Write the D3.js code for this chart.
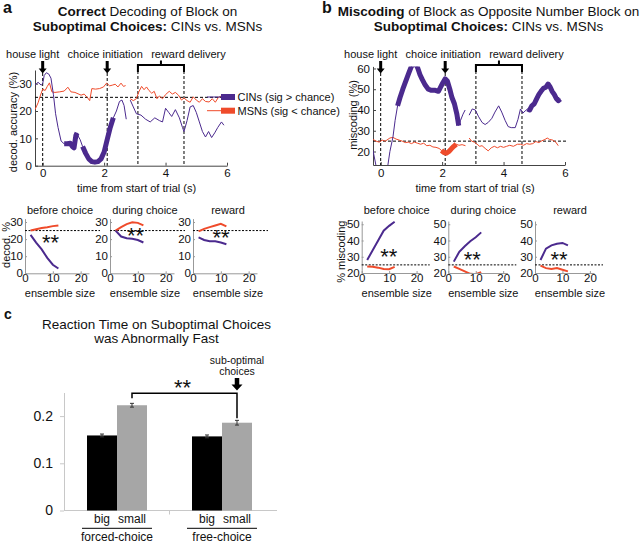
<!DOCTYPE html>
<html>
<head>
<meta charset="utf-8">
<script src="https://cdn.jsdelivr.net/npm/d3@7"></script>
<style>
  body { margin: 0; background: #fff; }
  svg { display: block; font-family: "Liberation Sans", Arial, sans-serif; }
</style>
</head>
<body>
<svg id="fig" width="640" height="542"></svg>
<script>
// ---- data: [time (s), value %] pairs, null = gap ----
const timeTicks = [0, 2, 4, 6];
const aYTicks = [0, 10, 20, 30];
const bYTicks = [20, 30, 40, 50, 60];

const aCins = [[-0.25,29.5],[-0.15,30.5],[-0.05,29.5],[0,30],[0.05,33],[0.12,34],[0.2,33.5],[0.27,32],[0.35,26],[0.42,19],[0.5,14],[0.6,9],[0.7,8],[0.8,8],[0.9,8.2],[0.97,7],[1.02,6.5],[1.08,11],[1.12,12],[1.17,10.5],[1.22,9.5],[1.3,7],[1.4,4.5],[1.5,2.5],[1.6,1.5],[1.7,1.3],[1.8,1.5],[1.9,2.5],[2,5],[2.1,9.5],[2.2,14],[2.3,17.5],[2.4,20],[2.5,23.5],[2.58,24],[2.65,22],[2.72,17],[2.8,null],[2.85,24],[2.95,21.5],[3.05,19],[3.2,18.5],[3.35,17],[3.5,16],[3.65,17.5],[3.8,16.5],[3.9,16],[4,21],[4.1,19.5],[4.2,18],[4.32,20.5],[4.45,17.5],[4.55,14],[4.6,12.5],[4.7,16.5],[4.8,21.5],[4.9,22],[5,19.5],[5.1,16],[5.2,12.5],[5.3,10.5],[5.4,12.5],[5.5,10.3],[5.6,12],[5.7,14],[5.82,16],[5.9,14.8]];
const aMsns = [[-0.25,20.5],[-0.15,23],[-0.08,25.5],[0,28],[0.08,27.5],[0.15,29],[0.22,30.3],[0.3,27],[0.4,26.8],[0.55,27],[0.7,27.3],[0.82,28.7],[0.92,27],[1.05,26.8],[1.15,26.3],[1.25,25.8],[1.35,26.2],[1.45,25],[1.53,23.8],[1.6,28.2],[1.72,28],[1.85,28.2],[1.98,28.8],[2.08,30.2],[2.18,29.2],[2.28,29.5],[2.36,29.8],[2.45,28.8],[2.55,30.2],[2.63,29],[2.7,29.3],[2.78,null],[2.85,24.5],[2.95,23.8],[3.05,24.5],[3.13,27],[3.22,29],[3.3,27.8],[3.38,28.8],[3.46,27.5],[3.55,26.5],[3.63,27.2],[3.72,24.5],[3.8,25.5],[3.9,24.5],[4,26],[4.12,27.2],[4.22,26.2],[4.32,26.8],[4.42,25.8],[4.52,24],[4.6,24.8],[4.7,23.8],[4.8,23.2],[4.9,25.2],[5,24],[5.1,23.2],[5.2,24.5],[5.3,23.5],[5.42,23.3],[5.52,24.5],[5.62,23.2],[5.72,25],[5.82,25.5]];
const aCinsSig = [[0.62, 1.12], [1.3, 2.32]];
const aMsnsSig = [];

const bCins = [[-0.25,20.5],[-0.15,13],[-0.05,5],[0.1,5],[0.22,12],[0.3,20],[0.4,27],[0.47,35],[0.55,42],[0.63,46],[0.72,50],[0.82,54],[0.92,58],[1,61],[1.1,63],[1.2,60.5],[1.28,57],[1.36,54.5],[1.45,52],[1.55,50],[1.65,49.5],[1.78,49.5],[1.88,49],[1.95,51],[2.02,53],[2.1,55],[2.17,54],[2.25,50],[2.32,46],[2.4,43],[2.48,38],[2.54,32.5],[2.6,35],[2.68,38],[2.75,40],[2.82,null],[2.88,37.5],[2.98,40.5],[3.08,40],[3.18,37],[3.3,34],[3.4,33],[3.5,34],[3.62,36],[3.72,39],[3.84,42],[3.94,39],[4.05,35],[4.15,32],[4.25,31.5],[4.38,31.5],[4.47,35.5],[4.55,40.5],[4.63,38.5],[4.7,39.5],[4.78,40.5],[4.85,40],[4.92,42],[5,43],[5.08,45.5],[5.15,47.5],[5.22,49],[5.3,50.5],[5.38,51],[5.45,52.5],[5.52,51],[5.58,49],[5.65,47.5],[5.72,45.5],[5.78,44.5],[5.85,45.3]];
const bMsns = [[-0.25,25.8],[-0.15,25],[-0.05,24.5],[0.05,25.5],[0.15,25],[0.3,26.5],[0.4,26.8],[0.5,26],[0.6,25.5],[0.7,25],[0.8,24.3],[0.9,24.5],[1,23.8],[1.1,24.5],[1.2,24],[1.3,23.5],[1.4,24],[1.5,22.8],[1.6,23],[1.7,22.2],[1.8,22],[1.9,21.5],[1.98,20.5],[2.06,19.5],[2.14,19.2],[2.22,20],[2.3,21.3],[2.38,22.5],[2.46,23.5],[2.55,23],[2.65,23.3],[2.76,22.8],[2.82,null],[2.88,26.5],[2.96,25],[3.05,24.5],[3.14,23.5],[3.22,22.5],[3.3,22.8],[3.4,21.5],[3.5,20.3],[3.6,21.8],[3.7,22.5],[3.8,21.8],[3.9,22.5],[4,22],[4.1,22.5],[4.2,23],[4.32,22.5],[4.45,23.5],[4.55,23.5],[4.65,23],[4.75,23.8],[4.85,23.5],[4.95,23.8],[5.05,24.8],[5.15,24.3],[5.25,25.2],[5.35,25.8],[5.42,26.5],[5.5,25.8],[5.6,25.5],[5.7,24.5],[5.78,22.8]];
const bCinsSig = [[0.52, 2.56], [4.72, 5.88]];
const bMsnsSig = [[1.95, 2.46]];

// ensemble-size panels
const ensSizes = [2, 4, 6, 8, 10, 12];
const smallTitles = ['before choice', 'during choice', 'reward'];
const aSmallCins = [[22.5,18,14,9,5,2.8],[25,21.5,20.5,20.2,19.5,18],[21,19.5,18.8,18.8,18,17]];
const aSmallMsns = [[25,25.8,26.5,27,27.6,28],[25,27,28.8,29.8,29.5,28],[24.5,26,27,28,29,27.5]];
const bSmallCins = [[28,34,40,46,49,51.5],[27,33,36.5,39.5,42,45],[28,35,37,38,38.5,37]];
const bSmallMsns = [[24,23.8,23.3,22.5,22.3,23.8],[24,22.5,21,19.5,19.3,20.5],[24.5,23,22.5,23,22,21]];

// reaction times
const cGroups = ['forced-choice', 'free-choice'];
const cConds = ['big', 'small'];
const cMeans = [[0.159, 0.223], [0.157, 0.186]];
const cErrs = [[0.003, 0.004], [0.003, 0.005]];
const cTicks = [0, 0.1, 0.2];

const PURPLE = '#4b2a8e';
const RED = '#ef4b2b';
const FONT = '"Liberation Sans", Arial, sans-serif';

const svg = d3.select('#fig');
const defs = svg.append('defs');

function label(g, x, y, s, size, anchor = 'middle', weight = 'normal') {
  return g.append('text').attr('x', x).attr('y', y).attr('text-anchor', anchor)
    .attr('font-size', size).attr('font-weight', weight).attr('fill', '#111').text(s);
}

function vLabel(g, x, y, s, size) {
  return g.append('text').attr('transform', `translate(${x},${y}) rotate(-90)`)
    .attr('text-anchor', 'middle').attr('font-size', size).attr('fill', '#111').text(s);
}

function styleAxis(sel, color, size) {
  sel.attr('font-family', FONT).attr('font-size', size);
  sel.selectAll('.domain, .tick line').attr('stroke', color);
  sel.selectAll('text').attr('fill', '#111');
}

function arrow(g, x, yTop, yTip, sw, hw, hh) {
  g.append('path')
    .attr('d', `M${x - sw / 2},${yTop}H${x + sw / 2}V${yTip - hh}H${x + hw / 2}L${x},${yTip}L${x - hw / 2},${yTip - hh}H${x - sw / 2}Z`)
    .attr('fill', '#000');
}

function title(g, cx, lines) {
  lines.forEach(([bold, rest], i) => {
    const t = g.append('text').attr('x', cx).attr('y', 16 + i * 14.5)
      .attr('text-anchor', 'middle').attr('font-size', 13.5).attr('fill', '#111');
    t.append('tspan').attr('font-weight', 'bold').text(bold);
    t.append('tspan').text(rest);
  });
}

// ---- time-course panel ----
function tracePanel(o) {
  const g = svg.append('g');
  const x = d3.scaleLinear([-0.25, 6], [o.left, o.left + 192]);
  const y = d3.scaleLinear(o.yDomain, o.yRange);
  const [yb, yt] = o.yRange;

  defs.append('clipPath').attr('id', o.id).append('rect')
    .attr('x', o.left).attr('y', yt).attr('width', 192).attr('height', yb - yt);

  const xa = g.append('g').attr('transform', `translate(0,${yb})`)
    .call(d3.axisBottom(x).tickValues(timeTicks).tickFormat(d3.format('d'))
      .tickSizeInner(-3).tickSizeOuter(0).tickPadding(3.5));
  const ya = g.append('g').attr('transform', `translate(${o.left},0)`)
    .call(d3.axisLeft(y).tickValues(o.yTicks).tickFormat(d3.format('d'))
      .tickSizeInner(-3).tickSizeOuter(0).tickPadding(3));
  styleAxis(xa, '#444', 11.5);
  styleAxis(ya, '#444', 11.5);

  // chance level
  g.append('line').attr('x1', o.left).attr('x2', x(6) + 2).attr('y1', y(25)).attr('y2', y(25))
    .attr('stroke', '#000').attr('stroke-dasharray', '3,2');

  // events
  [0, 2.1].forEach(t => {
    g.append('line').attr('x1', x(t)).attr('x2', x(t)).attr('y1', 73).attr('y2', yb)
      .attr('stroke', '#000').attr('stroke-dasharray', '3,2');
    arrow(g, x(t), 61, 73.5, 3, 8, 5);
  });
  [3.1, 4.6].forEach(t => {
    g.append('line').attr('x1', x(t)).attr('x2', x(t)).attr('y1', 66).attr('y2', yb)
      .attr('stroke', '#000').attr('stroke-dasharray', '3,2');
  });
  const mid = (x(3.1) + x(4.6)) / 2;
  g.append('path').attr('d', `M${x(3.1)},72V65H${x(4.6)}V72M${mid},65V60.5`)
    .attr('fill', 'none').attr('stroke', '#000').attr('stroke-width', 2);
  label(g, x(0) - 10, 57.5, 'house light', 11);
  label(g, x(2.1) - 2, 57.5, 'choice initiation', 11);
  label(g, mid + 27.5, 57.5, 'reward delivery', 11);

  // traces
  const line = d3.line().defined(d => d[1] != null).x(d => x(d[0])).y(d => y(d[1]));
  const plot = g.append('g').attr('clip-path', `url(#${o.id})`);
  [[o.msns, o.msnSig, RED], [o.cins, o.cinSig, PURPLE]].forEach(([series, sig, color]) => {
    plot.append('path').datum(series).attr('d', line)
      .attr('fill', 'none').attr('stroke', color).attr('stroke-width', 1);
    sig.forEach(([s, e]) => {
      plot.append('path').datum(series.filter(d => d[0] >= s && d[0] <= e)).attr('d', line)
        .attr('fill', 'none').attr('stroke', color).attr('stroke-width', 5)
        .attr('stroke-linejoin', 'round');
    });
  });

  label(g, o.xLabelX, 192, 'time from start of trial (s)', 11);
  vLabel(g, o.yLabelX, o.yLabelY, o.yLabel, 11);
}

// ---- ensemble-size panels ----
function smallPanels(o) {
  const g = svg.append('g');
  o.lefts.forEach((left, i) => {
    const x = d3.scaleLinear(o.xDomain, [left, left + o.width]);
    const y = d3.scaleLinear(o.yDomain, o.yRange);
    const [yb, yt] = o.yRange;
    defs.append('clipPath').attr('id', `${o.id}${i}`).append('rect')
      .attr('x', left).attr('y', yt - 4).attr('width', o.width).attr('height', yb - yt + 4);

    const xa = g.append('g').attr('transform', `translate(0,${yb})`)
      .call(d3.axisBottom(x).tickValues([0, 10, 20]).tickFormat(d3.format('d'))
        .tickSizeInner(-2).tickSizeOuter(0).tickPadding(1));
    const ya = g.append('g').attr('transform', `translate(${left},0)`)
      .call(d3.axisLeft(y).tickValues(o.yTicks).tickFormat(d3.format('d'))
        .tickSizeInner(-2).tickSizeOuter(0).tickPadding(2));
    styleAxis(xa, '#999', 11.5);
    styleAxis(ya, '#999', 11.5);

    g.append('line').attr('x1', left).attr('x2', left + o.chanceLen).attr('y1', y(25)).attr('y2', y(25))
      .attr('stroke', '#000').attr('stroke-dasharray', '2,1.5');

    const line = d3.line().x((d, j) => x(ensSizes[j])).y(d => y(d));
    const plot = g.append('g').attr('clip-path', `url(#${o.id}${i})`);
    plot.append('path').datum(o.msns[i]).attr('d', line)
      .attr('fill', 'none').attr('stroke', RED).attr('stroke-width', 2);
    plot.append('path').datum(o.cins[i]).attr('d', line)
      .attr('fill', 'none').attr('stroke', PURPLE).attr('stroke-width', 2);

    label(g, left + o.starDx[i], o.starY[i] + 12, '**', 22);
    label(g, left + o.titleDx, 214, smallTitles[i], 11);
    label(g, left + o.titleDx, 296.5, 'ensemble size', 11);
  });
  vLabel(g, o.yLabelX, o.yLabelY, o.yLabel, 11);
}

// panel letters & titles
label(svg, 3, 13, 'a', 16, 'start', 'bold');
label(svg, 322, 13, 'b', 16, 'start', 'bold');
label(svg, 4, 318.5, 'c', 14, 'start', 'bold');
title(svg, 147.5, [['Correct', ' Decoding of Block on'], ['Suboptimal Choices:', ' CINs vs. MSNs']]);
title(svg, 488.5, [['Miscoding', ' of Block as Opposite Number Block on'], ['Suboptimal Choices:', ' CINs vs. MSNs']]);

tracePanel({
  id: 'clipA', left: 35, yDomain: [0, 35], yRange: [165.7, 70], yTicks: aYTicks,
  cins: aCins, msns: aMsns, cinSig: aCinsSig, msnSig: aMsnsSig,
  yLabel: 'decod. accuracy (%)', yLabelX: 16.5, yLabelY: 122, xLabelX: 136.5
});
tracePanel({
  id: 'clipB', left: 373, yDomain: [13.5, 61], yRange: [165, 66.4], yTicks: bYTicks,
  cins: bCins, msns: bMsns, cinSig: bCinsSig, msnSig: bMsnsSig,
  yLabel: 'miscoding (%)', yLabelX: 356.5, yLabelY: 115, xLabelX: 475
});

// legend (panel a)
const leg = svg.append('g');
[[PURPLE, 97, 'CINs (sig > chance)'], [RED, 110.7, 'MSNs (sig < chance)']].forEach(([c, ly, s]) => {
  leg.append('line').attr('x1', 207).attr('x2', 235).attr('y1', ly).attr('y2', ly).attr('stroke', c).attr('stroke-width', 1);
  leg.append('line').attr('x1', 221).attr('x2', 235).attr('y1', ly).attr('y2', ly).attr('stroke', c).attr('stroke-width', 6);
  label(leg, 237.5, ly + 4, s, 11, 'start');
});

smallPanels({
  id: 'clipSA', lefts: [25, 110, 193], width: 64, xDomain: [0, 23],
  yDomain: [0, 32], yRange: [273.3, 218.6], yTicks: [0, 10, 20, 30],
  cins: aSmallCins, msns: aSmallMsns, chanceLen: 75, titleDx: 35,
  starDx: [25.5, 25.5, 28], starY: [238, 231, 233],
  yLabel: 'decod. %', yLabelX: 9.5, yLabelY: 245
});
smallPanels({
  id: 'clipSB', lefts: [361.7, 448.3, 535], width: 59, xDomain: [0, 21.5],
  yDomain: [20, 52], yRange: [273, 221], yTicks: [20, 30, 40, 50],
  cins: bSmallCins, msns: bSmallMsns, chanceLen: 68, titleDx: 35,
  starDx: [27, 24, 24], starY: [252, 255, 255],
  yLabel: '% miscoding', yLabelX: 344.5, yLabelY: 251.7
});

// ---- panel c: reaction times ----
const gc = svg.append('g');
label(gc, 156.5, 328.5, 'Reaction Time on Suboptimal Choices', 13.5);
label(gc, 156.5, 343, 'was Abnormally Fast', 13.5);

const xc = d3.scaleBand(cGroups, [64.5, 274.5]).paddingInner(0.4286).paddingOuter(0.2143);
const xs = d3.scaleBand(cConds, [0, xc.bandwidth()]);
const yc = d3.scaleLinear([0, 0.25], [510.5, 392.5]);

const yca = gc.append('g').attr('transform', 'translate(64,0)')
  .call(d3.axisLeft(yc).tickValues(cTicks).tickFormat(d => d === 0 ? '0' : d3.format('.1f')(d))
    .tickSizeInner(4).tickSizeOuter(0).tickPadding(7));
styleAxis(yca, '#c8c8c8', 14);
gc.append('line').attr('x1', 64).attr('x2', 277).attr('y1', yc(0)).attr('y2', yc(0)).attr('stroke', '#c8c8c8');
gc.append('line').attr('x1', 169.5).attr('x2', 169.5).attr('y1', yc(0)).attr('y2', yc(0) + 4).attr('stroke', '#c8c8c8');

cGroups.forEach((grp, gi) => {
  const gx = xc(grp);
  cConds.forEach((cond, ci) => {
    const bx = gx + xs(cond);
    const m = cMeans[gi][ci], e = cErrs[gi][ci];
    gc.append('rect').attr('x', bx).attr('y', yc(m)).attr('width', xs.bandwidth())
      .attr('height', yc(0) - yc(m)).attr('fill', ci === 0 ? '#000' : '#a6a6a6');
    const cx = bx + xs.bandwidth() / 2;
    gc.append('path').attr('d', `M${cx - 2},${yc(m + e)}H${cx + 2}M${cx},${yc(m + e)}V${yc(m - e)}M${cx - 2},${yc(m - e)}H${cx + 2}`)
      .attr('stroke', '#333').attr('fill', 'none');
    label(gc, cx, 523, cond, 12);
  });
  gc.append('line').attr('x1', gx - 5).attr('x2', gx + xc.bandwidth() + 5).attr('y1', 528.3).attr('y2', 528.3)
    .attr('stroke', '#000');
  label(gc, gx + xc.bandwidth() / 2, 540.5, grp, 12);
});

// significance bracket between small bars
const sx1 = xc('forced-choice') + xs('small') + xs.bandwidth() / 2;
const sx2 = xc('free-choice') + xs('small') + xs.bandwidth() / 2;
const by = yc(0.2485);
gc.append('path')
  .attr('d', `M${sx1},${by + 5}V${by}H${sx2}V${yc(cMeans[1][1] + cErrs[1][1]) - 2}`)
  .attr('fill', 'none').attr('stroke', '#000').attr('stroke-width', 1.5);
label(gc, (sx1 + sx2) / 2 - 2, by + 2, '**', 22);
arrow(gc, sx2, 378, 390.5, 4.5, 11, 6);
label(gc, sx2, 363.5, 'sub-optimal', 10.5);
label(gc, sx2, 375, 'choices', 10.5);
</script>
</body>
</html>
